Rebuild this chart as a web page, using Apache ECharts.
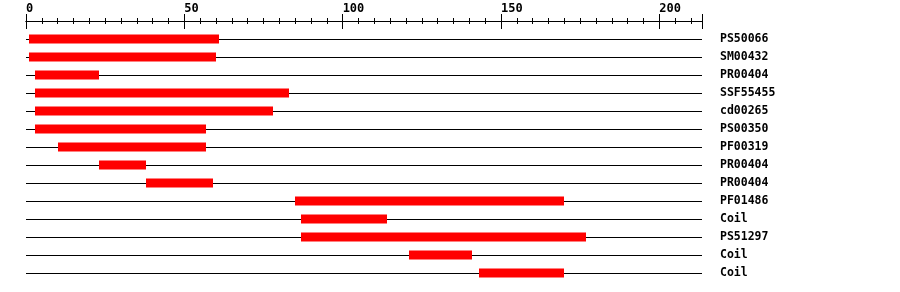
<!DOCTYPE html>
<html><head><meta charset="utf-8">
<script src="https://cdn.jsdelivr.net/npm/echarts@6/dist/echarts.min.js"></script>
<style>html,body{margin:0;padding:0;background:#fff}#c{width:900px;height:292px}</style>
</head><body><div id="c"></div>
<script>
const names = ['PS50066','SM00432','PR00404','SSF55455','cd00265','PS00350','PF00319','PR00404','PR00404','PF01486','Coil','PS51297','Coil','Coil'];
const starts = [1,1,3,3,3,3,10,23,38,85,87,87,121,143];
const ends = [61,60,23,83,78,57,57,38,59,170,114,177,141,170];
const xTicks = [0,50,100,150,200];

const cats = [''].concat(names);
const barData = names.map((n,i)=>[starts[i], ends[i], i+1]);
const font = '"DejaVu Sans Mono", monospace';
const chart = echarts.init(document.getElementById('c'), null, {renderer:'canvas'});
const xBase = {
  type:'value', min:0, max:213.5, interval:50, position:'top',
  axisLine:{show:true, lineStyle:{color:'#000', width:1}},
  splitLine:{show:false}
};
chart.setOption({
  animation:false,
  grid:{left:26, right:198, top:21, bottom:19},
  xAxis:[
    Object.assign({}, xBase, {
      axisTick:{show:true, inside:false, length:7, lineStyle:{color:'#000'}},
      minorTick:{show:true, splitNumber:10, length:3, lineStyle:{color:'#000'}},
      axisLabel:{show:true, align:'left', margin:6, color:'#000', fontFamily:font, fontWeight:'bold', fontSize:12,
        formatter:v=> xTicks.indexOf(v)>=0 ? String(v) : ''}
    }),
    Object.assign({}, xBase, {
      axisTick:{show:true, inside:true, length:8, lineStyle:{color:'#000'}},
      minorTick:{show:true, splitNumber:10, length:3, lineStyle:{color:'#000'}},
      axisLabel:{show:false}
    })
  ],
  yAxis:{
    type:'category', data:cats, inverse:true, boundaryGap:false, position:'right',
    axisLine:{show:false}, axisTick:{show:false},
    splitLine:{show:true, interval:0, lineStyle:{color:'#000', width:1}},
    axisLabel:{show:true, interval:0, margin:18, align:'left', color:'#000', fontFamily:font, fontWeight:'bold', fontSize:11.5}
  },
  series:[{
    type:'custom', xAxisIndex:0, data:barData,
    renderItem:(params, api)=>{
      const a = api.coord([api.value(0), api.value(2)]);
      const b = api.coord([api.value(1), api.value(2)]);
      return {type:'rect', shape:{x:Math.round(a[0]), y:Math.round(a[1])-4.5, width:Math.round(b[0])-Math.round(a[0]), height:9},
        style:{fill:'#ff0000'}};
    }
  }]
});
</script></body></html>
